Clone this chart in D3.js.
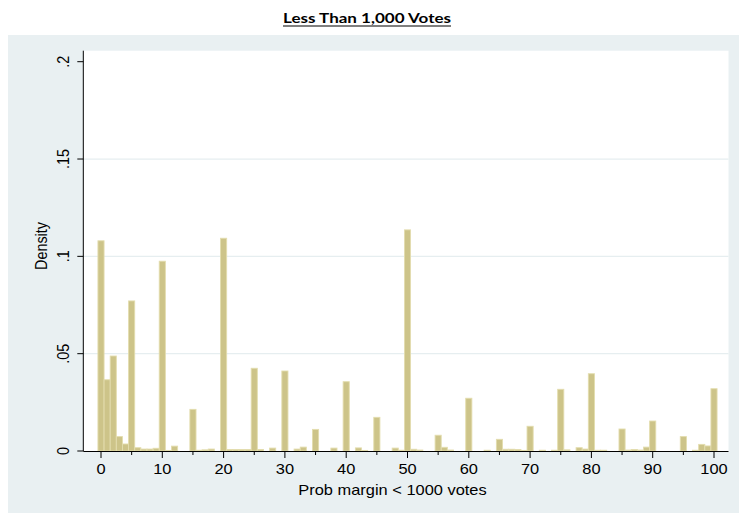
<!DOCTYPE html>
<html>
<head>
<meta charset="utf-8">
<script src="https://cdn.jsdelivr.net/npm/d3@7"></script>
<style>
  html, body { margin: 0; padding: 0; background: #ffffff; }
  svg { display: block; }
</style>
</head>
<body>
<svg id="chart" width="739" height="513"></svg>
<script>
// ---- Data ----
const chartTitle = "Less Than 1,000 Votes";
const xTitle = "Prob margin < 1000 votes";
const yTitle = "Density";
// discrete histogram: one bar per integer value 0..100
const binValues = d3.range(0, 101);
const densities = [
  0.1080, 0.0366, 0.0488, 0.0074, 0.0036, 0.0771, 0.0017, 0.0010, 0.0010, 0.0014,
  0.0975, 0.0003, 0.0025, 0.0000, 0.0000, 0.0214, 0.0004, 0.0006, 0.0010, 0.0000,
  0.1093, 0.0008, 0.0008, 0.0008, 0.0008, 0.0425, 0.0008, 0.0000, 0.0015, 0.0000,
  0.0411, 0.0000, 0.0010, 0.0020, 0.0000, 0.0111, 0.0000, 0.0000, 0.0015, 0.0000,
  0.0356, 0.0000, 0.0016, 0.0003, 0.0000, 0.0173, 0.0000, 0.0000, 0.0015, 0.0004,
  0.1136, 0.0009, 0.0005, 0.0000, 0.0000, 0.0081, 0.0019, 0.0005, 0.0000, 0.0000,
  0.0271, 0.0000, 0.0000, 0.0004, 0.0000, 0.0060, 0.0009, 0.0009, 0.0008, 0.0003,
  0.0127, 0.0000, 0.0004, 0.0000, 0.0004, 0.0317, 0.0006, 0.0000, 0.0017, 0.0010,
  0.0397, 0.0004, 0.0004, 0.0000, 0.0000, 0.0113, 0.0005, 0.0008, 0.0005, 0.0020,
  0.0154, 0.0000, 0.0000, 0.0000, 0.0000, 0.0074, 0.0000, 0.0004, 0.0034, 0.0026,
  0.0320
];
const xMajorTicks = [0, 10, 20, 30, 40, 50, 60, 70, 80, 90, 100];
const xMinorTicks = [5, 15, 25, 35, 45, 55, 65, 75, 85, 95];
const yTicks = [0, 0.05, 0.1, 0.15, 0.2];
const yTickLabels = ["0", ".05", ".1", ".15", ".2"];
const yGridTicks = [0.05, 0.1, 0.15];

// ---- Layout ----
const svg = d3.select("#chart");
const W = 739, H = 513;
const panel = { x: 8, y: 35, w: W - 8, h: H - 35 };
const plot = { left: 83.3, right: 728.5, top: 50.7, bottom: 451 };
const stretch = 1.14; // horizontal text stretch seen in reference

const x = d3.scaleLinear().domain([0, 100]).range([101, 714]);
const y = d3.scaleLinear().domain([0, 0.2]).range([451, 61.7]);

const fill = "#cdc489";
const edge = "#e3ddae";
const bg = "#e9f0f2";

// Title
svg.append("text")
  .attr("x", 367).attr("y", 23)
  .attr("text-anchor", "middle")
  .attr("font-family", "Lato, 'Open Sans', sans-serif")
  .attr("font-weight", "bold")
  .attr("font-size", 13.5)
  .attr("textLength", 168)
  .attr("lengthAdjust", "spacingAndGlyphs")
  .attr("fill", "#000")
  .text(chartTitle);
svg.append("line")
  .attr("x1", 283).attr("x2", 451)
  .attr("y1", 26).attr("y2", 26)
  .attr("stroke", "#000").attr("stroke-width", 1.2);

// Graph region background
svg.append("rect")
  .attr("x", panel.x).attr("y", panel.y)
  .attr("width", panel.w).attr("height", panel.h)
  .attr("fill", bg);

// Plot region
svg.append("rect")
  .attr("x", plot.left).attr("y", plot.top)
  .attr("width", plot.right - plot.left).attr("height", plot.bottom - plot.top)
  .attr("fill", "#ffffff");

// Gridlines
svg.append("g").selectAll("line").data(yGridTicks).join("line")
  .attr("x1", plot.left).attr("x2", plot.right)
  .attr("y1", d => y(d)).attr("y2", d => y(d))
  .attr("stroke", "#e6eef0").attr("stroke-width", 1.2);

// Bars
const binData = binValues.map((v, i) => ({ v, d: densities[i] })).filter(b => b.d > 0);
svg.append("g").selectAll("rect").data(binData).join("rect")
  .attr("x", b => x(b.v - 0.5))
  .attr("width", b => x(b.v + 0.5) - x(b.v - 0.5))
  .attr("y", b => y(b.d))
  .attr("height", b => y(0) - y(b.d))
  .attr("fill", fill)
  .attr("stroke", edge)
  .attr("stroke-width", 0.9);

// Axes lines
svg.append("line")
  .attr("x1", plot.left).attr("x2", plot.left)
  .attr("y1", plot.top).attr("y2", plot.bottom)
  .attr("stroke", "#000").attr("stroke-width", 1);
svg.append("line")
  .attr("x1", plot.left).attr("x2", plot.right)
  .attr("y1", plot.bottom + 0.5).attr("y2", plot.bottom + 0.5)
  .attr("stroke", "#000").attr("stroke-width", 1);

// Y ticks and labels
const yAxisG = svg.append("g");
yAxisG.selectAll("line").data(yTicks).join("line")
  .attr("x1", plot.left - 6).attr("x2", plot.left)
  .attr("y1", d => y(d)).attr("y2", d => y(d))
  .attr("stroke", "#000").attr("stroke-width", 1);
yAxisG.selectAll("text").data(yTicks).join("text")
  .attr("transform", d => `translate(${68.5},${y(d)}) scale(${stretch},1) rotate(-90)`)
  .attr("text-anchor", "middle")
  .attr("font-family", "'Liberation Sans', Arial, sans-serif")
  .attr("font-size", 14.4)
  .attr("fill", "#000")
  .text((d, i) => yTickLabels[i]);

// X ticks
const xAxisG = svg.append("g");
xAxisG.selectAll("line.maj").data(xMajorTicks).join("line")
  .attr("class", "maj")
  .attr("x1", d => x(d)).attr("x2", d => x(d))
  .attr("y1", plot.bottom).attr("y2", plot.bottom + 7)
  .attr("stroke", "#000").attr("stroke-width", 1);
xAxisG.selectAll("line.min").data(xMinorTicks).join("line")
  .attr("class", "min")
  .attr("x1", d => x(d)).attr("x2", d => x(d))
  .attr("y1", plot.bottom).attr("y2", plot.bottom + 4)
  .attr("stroke", "#000").attr("stroke-width", 1);
xAxisG.selectAll("text").data(xMajorTicks).join("text")
  .attr("transform", d => `translate(${x(d)},${474}) scale(${stretch},1)`)
  .attr("text-anchor", "middle")
  .attr("font-family", "'Liberation Sans', Arial, sans-serif")
  .attr("font-size", 14.4)
  .attr("fill", "#000")
  .text(d => String(d));

// Axis titles
svg.append("text")
  .attr("transform", `translate(${392.5},${494.5}) scale(${stretch},1)`)
  .attr("text-anchor", "middle")
  .attr("font-family", "'Liberation Sans', Arial, sans-serif")
  .attr("font-size", 14.4)
  .attr("fill", "#000")
  .text(xTitle);
svg.append("text")
  .attr("transform", `translate(${46.5},${246}) scale(${stretch},1) rotate(-90)`)
  .attr("text-anchor", "middle")
  .attr("font-family", "'Liberation Sans', Arial, sans-serif")
  .attr("font-size", 14.4)
  .attr("fill", "#000")
  .text(yTitle);
</script>
</body>
</html>
